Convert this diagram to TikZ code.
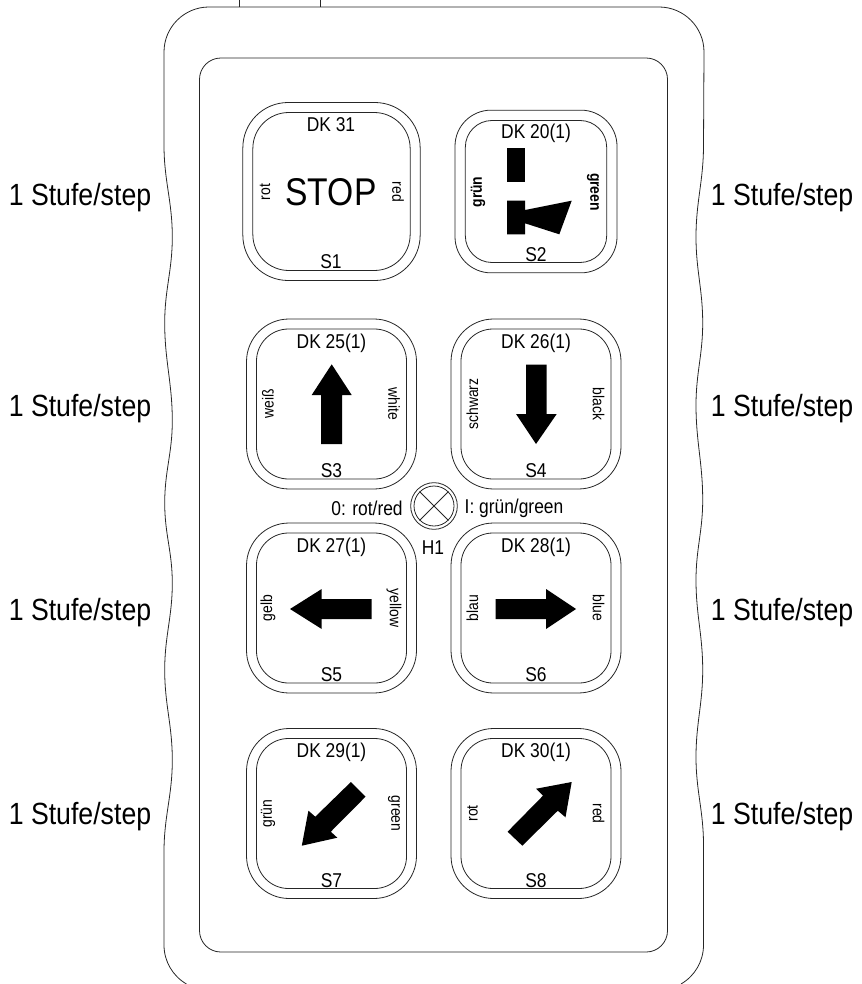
\documentclass[tikz,border=0pt]{standalone}
\usepackage{fontspec}
\setmainfont{Liberation Sans}[FakeStretch=0.87]
\usetikzlibrary{positioning}

\tikzset{
  contour/.style={line width=0.6pt,draw=black!85},
  btnouter/.style={contour,rectangle,inner sep=0pt,minimum width=127.5pt,minimum height=127.5pt,rounded corners=32pt},
  btninner/.style={contour,rectangle,inner sep=0pt,minimum width=112.5pt,minimum height=112.5pt,rounded corners=24pt},
  btntext/.style={font=\fontsize{15}{15}\selectfont,inner sep=0pt},
  sidetext/.style={font=\fontsize{12}{12}\selectfont,inner sep=0pt},
  steptext/.style={font=\fontsize{23}{23}\selectfont,inner sep=0pt},
  symbol/.style={fill=black,draw=none},
}

\begin{document}
\begin{tikzpicture}[x=0.75pt,y=0.75pt]
\useasboundingbox (0,0) rectangle (862,-984);

% housing
\draw[contour] (239.5,0) -- (239.5,-7);
\draw[contour] (320,0) -- (320,-7);
\draw[contour] (186.5,-984) arc (240:180:45) -- (164,-852)
  to[out=90,in=-90] (172.3,-760) to[out=90,in=-90] (164.7,-670)
  to[out=90,in=-90] (172.3,-583) to[out=90,in=-90] (164.7,-503)
  to[out=90,in=-90] (172.3,-421) to[out=90,in=-90] (164.7,-323)
  to[out=90,in=-90] (172.3,-237) to[out=90,in=-90] (164,-145)
  -- (164,-52) arc (180:90:45) -- (659,-7) arc (90:0:45) -- (703.5,-145)
  to[out=-90,in=90] (696,-237) to[out=-90,in=90] (702.7,-323)
  to[out=-90,in=90] (696,-405) to[out=-90,in=90] (702.7,-500)
  to[out=-90,in=90] (696,-580) to[out=-90,in=90] (702.7,-670)
  to[out=-90,in=90] (696,-757) to[out=-90,in=90] (703.5,-845)
  -- (703.5,-945) arc (0:-60:45);

% panel
\node (panel) at (433.5,-505) [contour,rectangle,inner sep=0pt,minimum width=351pt,minimum height=670.5pt,rounded corners=16pt] {};

% S1 and S2
\node (s1o) at (331.5,-191.5) [btnouter,minimum width=133pt,minimum height=133.5pt,rounded corners=34pt] {};
\node (s1i) at (331.5,-191.5) [btninner,minimum width=118pt,minimum height=118.5pt,rounded corners=27pt] {};
\node (s2o) at (536,-191.5) [btnouter,minimum width=121.5pt,minimum height=122pt,rounded corners=27pt] {};
\node (s2i) at (536,-191.5) [btninner,minimum width=106pt,minimum height=106.5pt,rounded corners=20pt] {};
\node (dk1) at (331,-125) [btntext] {DK 31};
\node (lbl1) at (331,-262) [btntext] {S1};
\node (stop) at (331,-192) [font=\fontsize{29}{29}\selectfont,inner sep=0pt] {STOP};
\node (rot1) at (265,-192) [sidetext,rotate=90] {rot};
\node (red1) at (398,-192) [sidetext,rotate=-90] {red};
\node (dk2) at (536,-133.5) [btntext] {DK 20(1)};
\node (lbl2) at (536,-255) [btntext] {S2};
\node (gruen2) at (478,-192) [sidetext,rotate=90,font=\fontsize{12}{12}\selectfont\bfseries] {grün};
\node (green2) at (593,-192) [sidetext,rotate=-90,font=\fontsize{12}{12}\selectfont\bfseries] {green};

% S3 to S8
\foreach \n/\x/\y/\dk/\lft/\rgt in {
  3/331.5/-404/25/weiß/white,
  4/536/-404/26/schwarz/black,
  5/331.5/-608/27/gelb/yellow,
  6/536/-608/28/blau/blue,
  7/331.5/-813.5/29/grün/green,
  8/536/-813.5/30/rot/red}
{
  \node (s\n o) at (\x,\y) [btnouter] {};
  \node (s\n i) at (\x,\y) [btninner] {};
  \node (dk\n) at (\x,\y+61) [btntext] {DK \dk(1)};
  \node (lbl\n) at (\x,\y-67) [btntext] {S\n};
  \node (lft\n) at (\x-63.5,\y) [sidetext,rotate=90] {\lft};
  \node (rgt\n) at (\x+62.5,\y) [sidetext,rotate=-90] {\rgt};
}

% symbols
\fill[symbol] (507,-148.3) rectangle (525,-182);
\fill[symbol] (507,-200.7) -- (525,-200.7) -- (525,-210) -- (571.7,-200.7) -- (559.3,-234.3) -- (525,-223.3) -- (525,-234.3) -- (507,-234.3) -- cycle;
\fill[symbol] (331.7,-364.3) -- (351.7,-395) -- (342,-395) -- (342,-444) -- (321,-444) -- (321,-395) -- (311.7,-395) -- cycle;
\fill[symbol] (536,-444) -- (556.7,-414) -- (546.7,-414) -- (546.7,-364.7) -- (526,-364.7) -- (526,-414) -- (516,-414) -- cycle;
\fill[symbol] (290,-609) -- (321.7,-589) -- (321.7,-599) -- (371.7,-599) -- (371.7,-619) -- (321.7,-619) -- (321.7,-629) -- cycle;
\fill[symbol] (576,-609) -- (546,-589) -- (546,-599) -- (495.7,-599) -- (495.7,-619) -- (546,-619) -- (546,-629) -- cycle;
\fill[symbol] (301.8,-845.7) -- (308.4,-810.7) -- (315.3,-816.7) -- (350.9,-782) -- (365.5,-796.7) -- (330.8,-831.7) -- (337.3,-837.7) -- cycle;
\fill[symbol] (571.7,-782) -- (536.2,-788.7) -- (543,-795.7) -- (507.6,-831.7) -- (522.3,-845.7) -- (557.8,-810.7) -- (565.5,-817.3) -- cycle;

% lamp
\node (h1o) at (434,-506) [contour,circle,inner sep=0pt,minimum size=35pt] {};
\node (h1i) at (434,-506) [contour,circle,inner sep=0pt,minimum size=30pt] {};
\draw[contour] (h1i.north west) -- (h1i.south east);
\draw[contour] (h1i.north east) -- (h1i.south west);
\node (h1lbl) at (433,-548) [btntext] {H1};
\node (lamp0) [btntext,left=5.5pt of h1o,yshift=-2pt] {0: rot/red};
\node (lamp1) [btntext,right=5pt of h1o,yshift=-2pt] {I: grün/green};

% levels
\foreach \n/\y in {1/-198,2/-408.5,3/-613,4/-816.5}
{
  \node (stepl\n) at (80,\y) [steptext] {1 Stufe/step};
  \node (stepr\n) at (782,\y) [steptext] {1 Stufe/step};
}
\end{tikzpicture}
\end{document}
